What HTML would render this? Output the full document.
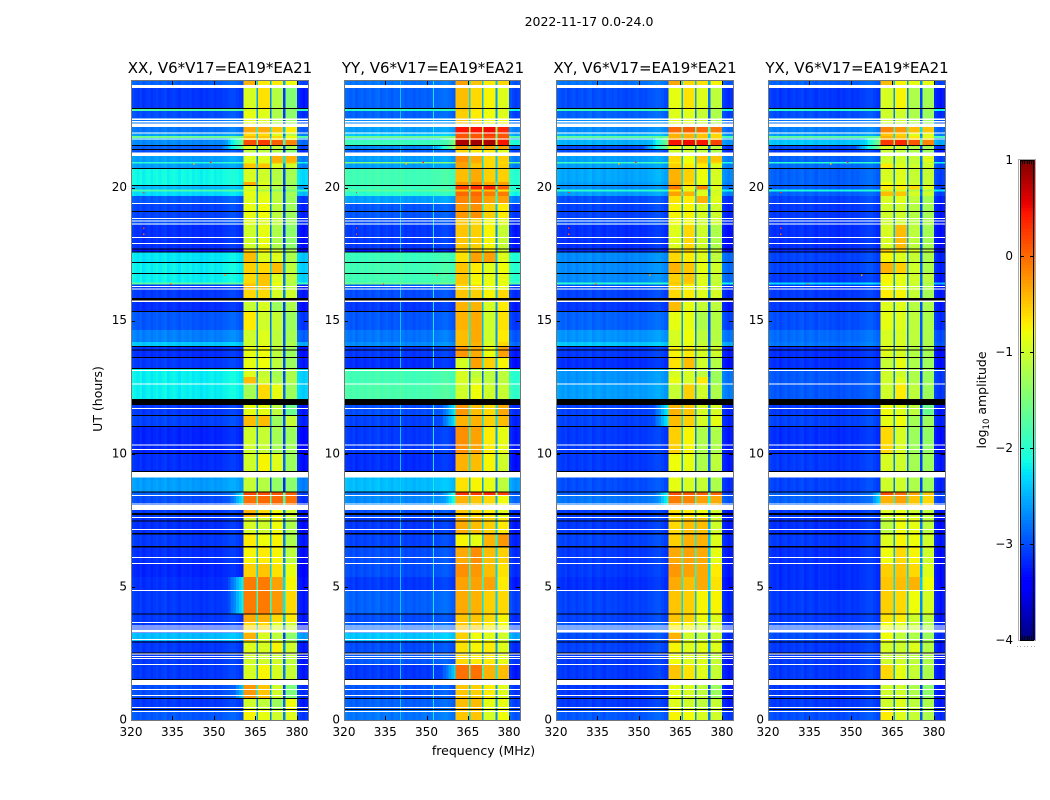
<!DOCTYPE html>
<html lang="en">
<head>
<meta charset="utf-8">
<title>2022-11-17 0.0-24.0</title>
<style>
html,body{margin:0;padding:0;background:#fff;}
svg{display:block;font-family:"DejaVu Sans","Liberation Sans",sans-serif;}
text{fill:#000;}
</style>
</head>
<body>
<svg id="chart" width="1050" height="800" viewBox="0 0 1050 800" xmlns="http://www.w3.org/2000/svg">
  <rect width="1050" height="800" fill="#fff"/>
  <text x="589" y="26" font-size="12.5" text-anchor="middle">2022-11-17 0.0-24.0</text>
  <text x="220" y="73" font-size="15" text-anchor="middle">XX, V6*V17=EA19*EA21</text>
  <text x="433" y="73" font-size="15" text-anchor="middle">YY, V6*V17=EA19*EA21</text>
  <text x="645" y="73" font-size="15" text-anchor="middle">XY, V6*V17=EA19*EA21</text>
  <text x="857" y="73" font-size="15" text-anchor="middle">YX, V6*V17=EA19*EA21</text>
  <text transform="translate(102,399) rotate(-90)" font-size="12.5" text-anchor="middle">UT (hours)</text>
  <text x="483.5" y="755" font-size="12.5" text-anchor="middle">frequency (MHz)</text>
  <text transform="translate(986,400) rotate(-90)" font-size="12.5" text-anchor="middle">log<tspan font-size="8.5" dy="3">10</tspan><tspan dy="-3"> amplitude</tspan></text>
  <g id="panels"></g>
  <g id="colorbar"></g>
  <g fill="#aaa">
    <rect x="1017" y="646" width="1" height="1"/><rect x="1020" y="646" width="1" height="1"/><rect x="1024" y="646" width="1" height="1"/>
    <rect x="1027" y="646" width="1" height="1"/><rect x="1031" y="646" width="1" height="1"/><rect x="1034" y="646" width="1" height="1"/>
  </g>
</svg>
<script>
// ---- Axis tick labels ----
const freqTicks = [320, 335, 350, 365, 380];
const hourTicks = [0, 5, 10, 15, 20];
const colorbarTicks = [1, 0, -1, -2, -3, -4];
const colorbarMinorFreq = [0.12, 0.27, 0.44, 0.59, 0.74];

// ---- Frequency channels (MHz) ----
const freqEdges = [320,321,322,323,324,325,326,327,328,329,330,331,332,333,334,335,336,337,338,339,340,341,342,343,344,345,346,347,348,349,350,351,352,353,354,355,356,357,358,359,360,360.6,365.4,366,370.2,370.8,375,375.8,380,381,382,383,384];
const bandStartMHz = [360.6, 366, 370.8, 375.8];
const bandEndMHz = [365.4, 370.2, 375, 380];
// offset of each out-of-band channel from the row's base level (log10 amplitude)
const channelOffsets = [-0.04,-0.08,-0.12,-0.06,-0.15,-0.1,-0.07,-0.14,-0.09,-0.06,-0.12,-0.07,-0.04,-0.14,-0.09,-0.06,-0.1,-0.15,-0.07,-0.09,-0.12,-0.08,-0.14,-0.1,-0.12,-0.16,-0.1,-0.14,-0.1,-0.08,-0.14,-0.1,-0.12,-0.07,-0.07,-0.04,-0.02,-0.02,-0.07,-0.12,-0.14,-0.17,-0.24,-0.3,-0.24];
const gapDrop = -1.8;
const shoulderRamp = [-1.3,-1.1,-1,-0.8,-0.6,-0.5,-0.3,-0.15,0];
const shoulderStartMHz = 352;

// ---- Time rows (UT hours, top to bottom) ----
const rowEdges = [24,23.74,22.95,22.87,22.61,22.27,22.05,21.93,21.86,21.78,21.58,21.43,21.18,20.96,20.90,20.71,20.21,20.08,19.92,19.85,19.68,19.38,18.85,18.59,17.69,17.58,17.18,16.77,16.43,16.36,16.15,15.72,15.32,14.65,14.20,14.01,13.60,13.18,12.88,12.62,11.83,11.42,11.00,9.99,9.13,8.56,8.41,8.08,7.59,6.99,6.50,5.86,5.37,4.85,3.98,3.64,3.27,2.97,2.52,2.07,1.31,0.83,0.38,0];

// ---- Row levels: [out-of-band, band 1, band 2, band 3, band 4] ----
const xxRows = [
[-2.8,-0.4,-0.7,-0.7,-0.8],[-3,-0.95,-0.65,-1.15,-1.45],[-1.7,-0.95,-0.85,-1.2,-1.4],[-2.9,-0.85,-0.9,-1.2,-1.4],[-2.7,-0.85,-0.9,-1.2,-1.3],
[-2.7,-0.35,-0.35,-0.5,-0.7],[-2.5,-0.6,-0.6,-0.9,-1.1],[-1.5,-0.45,-0.5,-0.6,-0.8],[-2.5,-0.6,-0.6,-0.7,-0.9],[-2.6,0.15,0.25,0.05,-0.15],
[-2.8,-0.9,-1,-1.1,-1.2],[-2.9,-1.1,-1.1,-1.2,-1.4],[-2.5,-0.9,-0.9,-0.4,-0.4],[-1.9,-0.9,-0.9,-0.45,-0.5],[-2.5,-0.5,-0.5,-0.9,-1],
[-2.05,-0.95,-1,-1.15,-1.25],[-2.05,-0.35,-0.9,-1.1,-1.3],[-2.35,-0.9,-1,-1.2,-1.3],[-1.7,-1,-1.2,-1.4,-1.5],[-2.2,-0.85,-0.9,-1.1,-1.25],
[-2.85,-0.9,-0.85,-1.1,-1.3],[-2.95,-0.85,-0.8,-1.1,-1.3],[-2.9,-0.9,-0.9,-1.1,-1.3],[-3.05,-1,-0.85,-1.2,-1.4],[-3.2,-0.6,-0.7,-1,-1.2],
[-2.15,-0.45,-0.9,-0.9,-1.2],[-2.1,-0.55,-0.6,-0.45,-1.1],[-2.1,-0.6,-0.5,-0.9,-1.1],[-1.6,-0.55,-0.5,-0.8,-1.2],[-3,-0.45,-0.5,-0.9,-1.1],
[-3,-0.6,-0.6,-0.95,-1],[-3.05,-1.05,-0.95,-1.3,-1.2],[-2.85,-0.7,-1,-1.05,-1.3],[-2.65,-1,-0.9,-1.1,-1.25],[-2.3,-1,-0.9,-1.1,-1.2],
[-3.05,-0.85,-0.8,-1.1,-1.3],[-3,-0.85,-0.8,-1.1,-1.3],[-2.1,-0.9,-1.05,-1.25,-1.2],[-2.1,-0.45,-1,-1.2,-1.2],[-2.1,-1.25,-0.6,-0.85,-1.3],
[-3,-0.85,-0.85,-1.1,-1.6],[-2.95,-0.45,-0.45,-1.3,-1.05],[-3.1,-1,-1.05,-1.25,-1.3],[-3.05,-1,-0.75,-0.9,-1.3],[-2.5,-1.05,-1.15,-1.35,-1.4],
[-2.8,0.2,0.15,0.1,0.05],[-2.9,-0.05,0,0,-0.05],[-3,-0.4,-0.6,-0.8,-1],[-3.05,-0.95,-1,-0.8,-1.2],[-3,-0.7,-0.8,-0.75,-1.2],
[-3.05,-0.75,-0.7,-0.75,-1.1],[-3.1,-0.55,-0.5,-0.65,-0.85],[-3.05,-0.1,-0.1,-0.3,-0.75],[-3,-0.1,-0.1,-0.25,-0.6],[-3,-0.35,-0.4,-0.6,-0.7],
[-3,-0.6,-0.6,-0.9,-1],[-2.35,-0.4,-0.95,-1.1,-1.4],[-3,-0.9,-0.95,-0.75,-1],[-3,-1,-1,-1,-1.1],[-3,-0.95,-0.75,-0.95,-1.05],
[-2.9,-0.25,-0.5,-1,-1.5],[-3,-1,-1.1,-1.3,-0.8],[-2.85,-0.75,-0.85,-1,-0.9]];
const yyRows = [
[-2.7,-0.3,-0.5,-0.7,-0.6],[-2.8,-0.45,-0.6,-0.75,-0.9],[-1.9,-0.5,-0.7,-0.8,-0.9],[-2.8,-0.55,-0.7,-0.8,-0.9],[-2.6,-0.5,-0.6,-0.8,-0.8],
[-2.5,0.45,0.45,0.5,0.35],[-2.3,0.1,0.1,0.25,0.1],[-1.5,0.1,0.1,0.15,0.1],[-2.3,0.1,0.15,0.15,0.1],[-1.8,0.8,0.85,0.8,0.45],
[-2.6,-0.25,-0.3,-0.3,-0.3],[-2.8,-0.6,-0.7,-0.7,-0.9],[-2.5,-0.2,-0.35,-0.6,-0.55],[-1.4,-0.3,-0.4,-0.6,-0.6],[-2.5,-0.3,-0.5,-0.6,-0.55],
[-1.75,-0.45,-0.35,-0.55,-0.55],[-1.75,-0.25,-0.15,-0.35,-0.3],[-1.8,0.25,0.35,0.4,0.05],[-1.6,-0.5,-0.5,-0.5,-0.7],[-1.9,0,0,-0.1,-0.1],
[-2.5,-0.15,-0.1,-0.3,-0.3],[-2.85,-0.25,-0.2,-0.55,-0.7],[-2.9,-0.5,-0.6,-0.8,-0.9],[-3,-0.5,-0.55,-0.75,-1.05],[-3.2,-0.5,-0.6,-0.7,-1],
[-1.8,-0.65,-0.3,-0.3,-0.9],[-1.75,-0.5,-0.7,-0.9,-0.8],[-1.75,-0.5,-0.75,-0.85,-0.85],[-1.5,-0.5,-0.8,-0.8,-0.85],[-2.85,-0.6,-0.6,-0.85,-0.85],
[-2.9,-0.5,-0.55,-0.75,-0.6],[-3,-0.4,-0.4,-0.95,-0.7],[-2.85,-0.4,-0.35,-1,-0.65],[-2.7,-0.45,-0.35,-1,-0.7],[-2.6,-0.45,-0.4,-0.95,-0.6],
[-3,-0.25,-0.35,-0.8,-0.3],[-3.05,-0.95,-0.3,-0.55,-0.75],[-1.75,-0.95,-1.1,-1.1,-1.1],[-1.75,-0.95,-1,-1.1,-1.1],[-1.7,-1,-0.8,-1,-1.05],
[-2.9,-0.25,-0.45,-0.6,-0.35],[-2.95,-0.4,-0.4,-0.55,-0.45],[-3,-0.2,-0.3,-0.7,-0.85],[-3.05,-0.4,-0.45,-0.75,-1],[-2.35,-0.65,-0.75,-0.85,-1.1],
[-2.7,0.3,0.25,0.35,0.2],[-2.6,-0.4,-0.5,-0.6,-0.8],[-2.9,-0.5,-0.6,-0.7,-0.9],[-3,-0.35,-0.45,-0.55,-0.7],[-2.95,-0.75,-0.85,-0.4,-0.25],
[-2.9,-0.35,-0.2,-0.45,-0.55],[-2.9,-0.2,-0.25,-0.45,-0.65],[-3,-0.3,-0.3,-0.3,-0.7],[-2.8,-0.35,-0.4,-0.55,-0.6],[-2.9,-0.5,-0.5,-0.6,-0.75],
[-2.8,-0.5,-0.55,-0.7,-0.8],[-2.3,-0.55,-0.8,-0.9,-1],[-2.9,-0.65,-0.75,-0.7,-0.9],[-2.85,-0.6,-0.7,-0.7,-0.85],[-3,-0.05,-0.05,-0.4,-0.45],
[-2.85,-0.5,-0.55,-0.7,-0.9],[-2.8,-0.45,-0.45,-0.85,-0.85],[-2.7,-0.5,-0.5,-0.95,-0.8]];
const xyRows = [
[-2.7,-0.35,-0.6,-0.65,-0.75],[-2.9,-0.85,-0.65,-0.9,-1.1],[-1.8,-0.9,-0.8,-1,-1.2],[-2.8,-0.9,-0.9,-1.05,-1.2],[-2.6,-0.85,-0.9,-1.05,-1.2],
[-2.6,0,0.05,0,-0.1],[-2.4,-0.4,-0.4,-0.5,-0.6],[-1.6,-0.4,-0.4,-0.5,-0.6],[-2.4,-0.3,-0.3,-0.4,-0.5],[-2.4,0.45,0.5,0.45,0.2],
[-2.9,-0.85,-1,-1,-1.1],[-2.9,-1,-1,-1.1,-1.2],[-2.5,-0.6,-0.8,-0.5,-0.5],[-1.8,-0.7,-0.8,-0.55,-0.6],[-2.5,-0.55,-0.7,-0.7,-0.9],
[-2.45,-0.4,-0.55,-0.8,-0.95],[-2.5,-0.35,-0.6,-0.85,-0.95],[-2.6,-0.1,-0.7,-0.15,-0.9],[-1.9,-0.7,-0.9,-1,-1],[-2.5,-0.3,-0.4,-0.9,-0.95],
[-2.9,-0.65,-0.7,-0.4,-0.9],[-2.95,-0.75,-0.75,-0.95,-1],[-2.9,-0.8,-0.8,-1,-1],[-3.05,-0.9,-0.6,-1,-1.2],[-3.1,-0.5,-0.5,-0.8,-1],
[-2.6,-0.6,-0.7,-0.9,-1.1],[-2.6,-0.4,-0.5,-0.85,-1],[-2.6,-0.55,-0.5,-0.9,-1.05],[-1.9,-0.5,-0.55,-0.9,-1.1],[-2.9,-0.6,-0.75,-0.9,-1],
[-2.95,-0.6,-0.7,-0.9,-0.95],[-3,-0.45,-0.85,-1.05,-1.1],[-2.8,-0.85,-0.85,-1.2,-1.15],[-2.55,-0.95,-0.8,-1.1,-1.15],[-2.3,-0.95,-0.85,-1.05,-1.1],
[-3,-0.75,-0.7,-0.95,-1],[-3.05,-0.65,-0.45,-1,-1.15],[-2.55,-0.95,-0.95,-1.1,-1.3],[-2.55,-0.85,-0.95,-0.7,-1.3],[-2.5,-1.05,-0.55,-1,-1.2],
[-2.95,-0.4,-0.5,-0.95,-0.95],[-2.95,-0.45,-0.55,-0.95,-0.85],[-3,-0.55,-0.75,-1.2,-1.2],[-3,-0.8,-0.85,-1.2,-1.1],[-2.9,-0.85,-0.95,-1.05,-1.2],
[-2.8,0.15,0.1,0.05,0],[-2.7,-0.1,-0.15,-0.3,-0.35],[-3,-0.65,-0.7,-0.8,-1],[-3,-0.6,-0.45,-0.45,-1],[-2.95,-0.55,-0.4,-0.4,-0.9],
[-3,-0.35,-0.3,-0.35,-0.85],[-3,-0.25,-0.3,-0.35,-0.7],[-3.05,-0.35,-0.45,-0.35,-0.65],[-2.95,-0.5,-0.55,-0.75,-0.75],[-2.95,-0.5,-0.55,-0.8,-0.9],
[-2.85,-0.7,-0.75,-0.95,-0.95],[-2.9,-0.4,-1,-1.1,-1.05],[-2.95,-0.75,-0.9,-0.85,-0.9],[-3,-0.8,-0.9,-0.9,-1.05],[-3,-0.5,-0.65,-0.9,-1.05],
[-3,-0.85,-0.95,-1.1,-1.3],[-3,-0.9,-1,-1.1,-1.05],[-2.85,-0.75,-0.8,-0.95,-1]];
const yxRows = [
[-2.8,-0.45,-0.75,-0.85,-0.85],[-3,-0.95,-0.75,-1.2,-1.25],[-1.9,-1,-0.9,-1.2,-1.3],[-2.9,-1,-1,-1.2,-1.3],[-2.7,-1,-1,-1.2,-1.3],
[-2.65,-0.15,-0.25,-0.45,-0.5],[-2.5,-0.5,-0.55,-0.9,-0.9],[-1.6,-0.4,-0.5,-0.7,-0.85],[-2.5,-0.35,-0.4,-0.6,-0.6],[-2.3,0.25,0.35,0.1,-0.15],
[-2.9,-0.95,-1,-1.2,-1.25],[-3,-1.05,-1.1,-1.2,-1.3],[-2.8,-1,-1,-1.05,-0.9],[-1.9,-1,-1,-1.1,-1],[-2.75,-0.7,-0.9,-1,-1],
[-2.8,-0.95,-0.9,-1.05,-1.05],[-2.8,-0.8,-0.85,-1,-1.05],[-2.85,-0.7,-0.7,-0.6,-0.9],[-2,-1,-1,-1.2,-1.2],[-2.8,-0.45,-0.5,-0.95,-1],
[-2.95,-0.95,-0.9,-1.1,-1.25],[-3,-1,-1,-1.15,-1.25],[-3,-1,-1,-1.15,-1.2],[-3.05,-0.95,-0.45,-1.1,-1.25],[-3.1,-0.5,-0.6,-0.9,-1.1],
[-2.95,-0.75,-0.9,-1.05,-1.2],[-2.95,-0.4,-0.55,-1,-1.2],[-3,-0.75,-0.85,-1,-1.1],[-2.2,-0.8,-0.9,-1,-1.2],[-3,-0.8,-0.85,-1.05,-1.2],
[-3,-0.7,-0.75,-1.05,-1.25],[-3,-0.9,-0.9,-1.15,-1.2],[-2.9,-0.85,-0.9,-1.1,-1.2],[-2.75,-0.95,-0.95,-1.1,-1.2],[-2.7,-0.95,-0.95,-1.1,-1.2],
[-3.05,-0.9,-0.95,-1.15,-1.25],[-3.05,-1.05,-0.85,-1.2,-1.3],[-2.85,-1,-1,-1.2,-1.3],[-2.85,-1,-0.9,-1.2,-1.3],[-2.85,-1,-0.7,-1.1,-1.3],
[-3,-0.8,-0.9,-1.1,-1.6],[-2.95,-0.85,-0.8,-1.25,-1.3],[-3.05,-0.6,-0.95,-1.3,-1.35],[-3,-0.95,-1,-1.25,-1.3],[-2.95,-1,-1,-1.2,-1.3],
[-2.8,0.15,0,-0.3,-0.5],[-2.8,-0.4,-0.3,-0.5,-0.6],[-3,-0.9,-0.85,-1,-1.1],[-3.05,-1.1,-0.8,-0.85,-1.1],[-3,-0.9,-0.75,-0.8,-1],
[-3.05,-0.8,-0.6,-0.75,-1],[-3.05,-0.55,-0.5,-0.6,-0.9],[-3.05,-0.5,-0.45,-0.4,-0.8],[-3,-0.55,-0.6,-0.8,-0.95],[-3,-0.65,-0.7,-1,-1.1],
[-2.9,-0.8,-0.9,-1.05,-1.2],[-2.9,-0.8,-1.1,-1.2,-1.3],[-3,-0.95,-1,-0.9,-1.15],[-3,-1,-1,-1.1,-1.2],[-3,-0.6,-0.85,-1.05,-1.2],
[-3,-1,-1,-1.2,-1.4],[-3,-1,-0.9,-1.1,-1.2],[-2.9,-0.7,-0.9,-1.05,-1.2]];

// ---- Shoulders below the band: [hour top, hour bottom, level at band edge] ----
const xxShoulders = [[21.92,21.5,-1.6],[8.56,8.08,-2.2],[5.37,3.98,-2.2],[1.31,0.83,-2.4]];
const yyShoulders = [[21.92,21.47,-1.4],[11.64,11,-2.2],[8.56,8.08,-2],[2.07,1.5,-2.3]];
const xyShoulders = [[21.92,21.47,-1.5],[11.64,11,-2.2],[8.56,8.08,-2.1]];
const yxShoulders = [[21.92,21.47,-1.5],[8.56,8.08,-2.3]];

// ---- Narrow interference channels: [MHz, level] ----
const xxSpikes = [];
const yySpikes = [[340.3,-2.4],[352.3,-2.2]];
const xySpikes = [];
const yxSpikes = [];

// ---- Isolated bright samples, seen in all polarisations: [MHz, hour, level] ----
const hotSamples = [[324.3,19.79,0.2],[342.4,20.85,-0.3],[348.6,20.92,0.3],[334.1,16.34,0.2],[353.6,16.68,-0.2],[324.3,18.44,0.2],[324.3,18.22,0]];

// ---- Fully flagged (white) and blanked (black) time ranges: [from hour, to hour] ----
const flaggedHours = [[23.737,23.85],[22.535,22.592],[22.441,22.498],[22.272,22.404],[22.028,22.066],[21.803,21.84],[21.183,21.315],[19.388,19.425],[18.817,18.854],[18.723,18.761],[18.61,18.648],[18.111,18.148],[17.885,17.923],[16.27,16.308],[16.169,16.207],[15.7,15.756],[13.1,13.138],[12.601,12.638],[11.688,11.725],[10.31,10.347],[10.148,10.186],[9.108,9.315],[8.413,8.451],[8.101,8.139],[7.887,8.075],[7.587,7.624],[7.136,7.174],[6.085,6.122],[5.859,5.897],[4.845,4.883],[3.643,3.681],[3.519,3.557],[3.437,3.474],[3.279,3.392],[3.005,3.042],[2.453,2.49],[2.366,2.404],[2.291,2.329],[2.066,2.103],[1.315,1.502],[1.127,1.164],[0.901,0.939],[0.451,0.488],[0.3,0.338]];
const blankHours = [[22.956,22.993],[21.566,21.603],[21.416,21.454],[20.702,20.74],[20.064,20.101],[19.073,19.11],[17.679,17.717],[17.559,17.596],[17.172,17.209],[16.759,16.796],[15.756,15.857],[15.332,15.369],[14.002,14.039],[13.878,13.915],[13.604,13.641],[13.191,13.228],[11.831,12.056],[11.418,11.455],[11.005,11.042],[9.991,10.028],[9.315,9.352],[8.552,8.59],[7.7,7.775],[7.463,7.5],[6.975,7.023],[6.486,6.535],[3.959,3.996],[2.918,2.956],[2.505,2.543],[1.502,1.54],[0.789,0.826],[0.376,0.413]];

// ---- Matplotlib "jet" colormap anchors ----
const jetRedPos = [0,0.35,0.66,0.89,1];
const jetRedVal = [0,0,1,1,0.5];
const jetGreenPos = [0,0.125,0.375,0.64,0.91,1];
const jetGreenVal = [0,0,1,1,0,0];
const jetBluePos = [0,0.11,0.34,0.65,1];
const jetBlueVal = [0.5,1,1,0,0];

const SVGNS = 'http://www.w3.org/2000/svg';
const levelMin = -4;
const levelMax = 1;
const frameTop = 81;
const frameBottom = 720;
const panelLayout = [
  {key:'xx', left:131, right:308, rows:xxRows, shoulders:xxShoulders, spikes:xxSpikes},
  {key:'yy', left:344, right:520, rows:yyRows, shoulders:yyShoulders, spikes:yySpikes},
  {key:'xy', left:556, right:733, rows:xyRows, shoulders:xyShoulders, spikes:xySpikes},
  {key:'yx', left:768, right:945, rows:yxRows, shoulders:yxShoulders, spikes:yxSpikes}
];

function interp(pos, val, t){
  for(let i = 1; i < pos.length; i++){
    if(t <= pos[i]){
      return val[i-1] + (val[i]-val[i-1]) * (t-pos[i-1]) / (pos[i]-pos[i-1]);
    }
  }
  return val[val.length-1];
}
function levelColor(v){
  const t = Math.max(0, Math.min(1, (v-levelMin)/(levelMax-levelMin)));
  const r = Math.round(255*interp(jetRedPos, jetRedVal, t));
  const g = Math.round(255*interp(jetGreenPos, jetGreenVal, t));
  const b = Math.round(255*interp(jetBluePos, jetBlueVal, t));
  return 'rgb(' + r + ',' + g + ',' + b + ')';
}
function yScale(h){ return frameBottom - (frameBottom-frameTop) * h / 24; }
function makeXScale(p){ return function(f){ return p.left + (p.right-p.left) * (f-320) / 64; }; }

function addRect(parent, x, y, w, h, fill, name){
  const el = document.createElementNS(SVGNS, 'rect');
  el.setAttribute('x', x);
  el.setAttribute('y', y);
  el.setAttribute('width', w);
  el.setAttribute('height', h);
  el.setAttribute('fill', fill);
  el.setAttribute('shape-rendering', 'crispEdges');
  
  
  parent.appendChild(el);
  return el;
}
function addText(parent, x, y, str, anchor, name){
  const el = document.createElementNS(SVGNS, 'text');
  el.setAttribute('x', x);
  el.setAttribute('y', y);
  el.setAttribute('font-size', '12');
  el.setAttribute('text-anchor', anchor);
  
  
  el.textContent = str;
  parent.appendChild(el);
  return el;
}

function cellLevel(p, rowIndex, f, channelIndex){
  const row = p.rows[rowIndex];
  const hourMid = (rowEdges[rowIndex] + rowEdges[rowIndex+1]) / 2;
  for(let b = 0; b < bandStartMHz.length; b++){
    if(f > bandStartMHz[b] && f < bandEndMHz[b]) return row[1+b];
    if(b < bandStartMHz.length-1 && f > bandEndMHz[b] && f < bandStartMHz[b+1]){
      return (row[1+b] + row[2+b]) / 2 + gapDrop;
    }
  }
  let v = row[0] + channelOffsets[channelIndex];
  const ramp = Math.floor(f - shoulderStartMHz);
  if(f < bandStartMHz[0] && ramp >= 0 && ramp < shoulderRamp.length){
    p.shoulders.forEach(function(s){
      if(hourMid <= s[0] && hourMid >= s[1]) v = Math.max(v, s[2] + shoulderRamp[ramp]);
    });
  }
  return v;
}

function drawPanel(p){
  const x = makeXScale(p);
  const g = document.createElementNS(SVGNS, 'g');
  
  
  document.getElementById('panels').appendChild(g);

  for(let r = 0; r < rowEdges.length-1; r++){
    const yTop = yScale(rowEdges[r]);
    const yBot = yScale(rowEdges[r+1]);
    let outIndex = 0;
    for(let c = 0; c < freqEdges.length-1; c++){
      const f0 = freqEdges[c];
      const f1 = freqEdges[c+1];
      const mid = (f0+f1)/2;
      const inBandRange = mid > bandStartMHz[0] && mid < bandEndMHz[bandEndMHz.length-1];
      const v = cellLevel(p, r, mid, outIndex);
      if(!inBandRange) outIndex++;
      addRect(g, x(f0), yTop, x(f1)-x(f0), yBot-yTop, levelColor(v), 'heatmap-cell');
    }
    p.spikes.forEach(function(s){
      const v = Math.max(p.rows[r][0], s[1]);
      addRect(g, x(s[0]), yTop, x(s[0]+0.5)-x(s[0]), yBot-yTop, levelColor(v), 'interference-channel');
    });
  }
  hotSamples.forEach(function(s){
    addRect(g, x(s[0]), yScale(s[1]+0.05), x(s[0]+0.5)-x(s[0]), yScale(s[1])-yScale(s[1]+0.05), levelColor(s[2]), 'hot-sample');
  });
  flaggedHours.forEach(function(b){
    addRect(g, p.left, yScale(b[1]), p.right-p.left, Math.max(1, yScale(b[0])-yScale(b[1])), '#ffffff', 'flagged-time-range');
  });
  blankHours.forEach(function(b){
    addRect(g, p.left, yScale(b[1]), p.right-p.left, Math.max(1, yScale(b[0])-yScale(b[1])), '#000000', 'blank-time-range');
  });

  freqTicks.forEach(function(f){
    const px = Math.round(x(f));
    addRect(g, px, frameTop, 1, 4, '#000', 'x-tick-mark');
    addRect(g, px, frameBottom-4, 1, 4, '#000', 'x-tick-mark');
    addText(g, x(f), 736, String(f), 'middle', 'x-tick-label');
  });
  hourTicks.forEach(function(h){
    const py = Math.round(yScale(h));
    addRect(g, p.left, py, 4, 1, '#000', 'y-tick-mark');
    addRect(g, p.right-4, py, 4, 1, '#000', 'y-tick-mark');
    addText(g, p.left-4, yScale(h)+3.5, String(h), 'end', 'y-tick-label');
  });

  const frame = document.createElementNS(SVGNS, 'rect');
  frame.setAttribute('x', p.left+0.5);
  frame.setAttribute('y', frameTop-0.5);
  frame.setAttribute('width', p.right-p.left);
  frame.setAttribute('height', frameBottom-frameTop+1);
  frame.setAttribute('fill', 'none');
  frame.setAttribute('stroke', '#777');
  frame.setAttribute('stroke-width', '1');
  
  
  g.appendChild(frame);
}

function drawColorbar(){
  const g = document.getElementById('colorbar');
  const left = 1020;
  const right = 1035;
  const top = 160;
  const bottom = 640;
  const yLevel = function(v){ return bottom - (bottom-top) * (v-levelMin) / (levelMax-levelMin); };
  const steps = 160;
  for(let i = 0; i < steps; i++){
    const v0 = levelMin + (levelMax-levelMin) * i / steps;
    const v1 = levelMin + (levelMax-levelMin) * (i+1) / steps;
    addRect(g, left, yLevel(v1), right-left, yLevel(v0)-yLevel(v1), levelColor((v0+v1)/2), 'colorbar-step');
  }
  colorbarTicks.forEach(function(v){
    const py = Math.round(yLevel(v));
    if(v !== levelMin && v !== levelMax){
      addRect(g, left, py, 4, 1, '#000', 'colorbar-tick-mark');
      addRect(g, right-5, py, 4, 1, '#000', 'colorbar-tick-mark');
    }
    const label = v < 0 ? '\u2212' + Math.abs(v) : String(v);
    addText(g, 1013, yLevel(v)+4, label, 'end', 'colorbar-tick-label');
  });
  colorbarMinorFreq.forEach(function(t){
    const px = Math.round(left + (right-left) * t);
    addRect(g, px, top, 1, 4, '#000', 'colorbar-minor-tick');
    addRect(g, px, bottom-4, 1, 4, '#000', 'colorbar-minor-tick');
  });
  const outer = document.createElementNS(SVGNS, 'rect');
  outer.setAttribute('x', left-1.5);
  outer.setAttribute('y', top-0.5);
  outer.setAttribute('width', right-left+2);
  outer.setAttribute('height', bottom-top+1);
  outer.setAttribute('fill', 'none');
  outer.setAttribute('stroke', '#aaa');
  
  
  g.appendChild(outer);
  const inner = document.createElementNS(SVGNS, 'rect');
  inner.setAttribute('x', left+0.5);
  inner.setAttribute('y', top+0.5);
  inner.setAttribute('width', right-left-2);
  inner.setAttribute('height', bottom-top);
  inner.setAttribute('fill', 'none');
  inner.setAttribute('stroke', '#000');
  
  
  g.appendChild(inner);
}

panelLayout.forEach(drawPanel);
drawColorbar();
</script>
</body>
</html>
